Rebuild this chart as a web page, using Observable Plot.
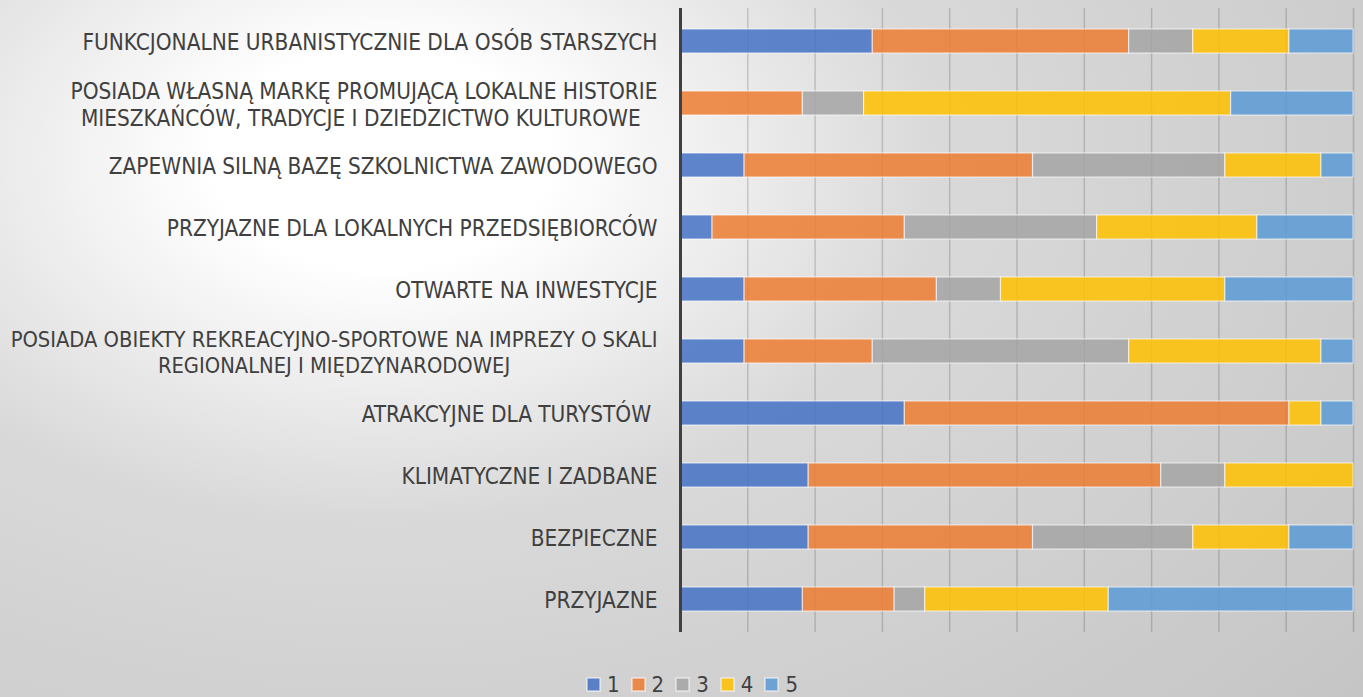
<!DOCTYPE html>
<html><head><meta charset="utf-8">
<script src="https://cdn.jsdelivr.net/npm/d3@7"></script>
<script src="https://cdn.jsdelivr.net/npm/@observablehq/plot@0.6"></script>
<style>
html,body{margin:0;padding:0;}
body{width:1363px;height:697px;overflow:hidden;position:relative;
 background: radial-gradient(ellipse 1400px 900px at 380px 160px, #ffffff 0%, #ffffff 12%, #d9d9d9 40%, #c2c2c2 100%);
 font-family: "Liberation Sans Narrow","DejaVu Sans Condensed",sans-serif;}
#chart{position:absolute;left:0;top:0;}
#chart svg{background:transparent;}
#legend{position:absolute;left:587px;top:668px;}
.lg{margin:0 !important;}
.lg-swatch{margin-right:12px !important;}
.lg-swatch > svg{margin-right:7px !important;}
.lg-swatch svg rect{fill-opacity:0.85;stroke:#fff;stroke-opacity:0.6;stroke-width:1.5px;}
</style></head><body>
<div id="chart"></div><div id="legend"></div>
<script>
const categories = [
 "FUNKCJONALNE URBANISTYCZNIE DLA OSÓB STARSZYCH",
 "POSIADA WŁASNĄ MARKĘ PROMUJĄCĄ LOKALNE HISTORIE\nMIESZKAŃCÓW, TRADYCJE I DZIEDZICTWO KULTUROWE ",
 "ZAPEWNIA SILNĄ BAZĘ SZKOLNICTWA ZAWODOWEGO",
 "PRZYJAZNE DLA LOKALNYCH PRZEDSIĘBIORCÓW",
 "OTWARTE NA INWESTYCJE",
 "POSIADA OBIEKTY REKREACYJNO-SPORTOWE NA IMPREZY O SKALI\nREGIONALNEJ I MIĘDZYNARODOWEJ",
 "ATRAKCYJNE DLA TURYSTÓW ",
 "KLIMATYCZNE I ZADBANE",
 "BEZPIECZNE",
 "PRZYJAZNE"
];
const levels = ["1","2","3","4","5"];
const score1 = [6,0,2,1,2,2,7,4,4,4];
const score2 = [8,4,9,6,6,4,12,11,7,3];
const score3 = [2,2,6,6,2,8,0,2,5,1];
const score4 = [3,12,3,5,7,6,1,4,3,6];
const score5 = [2,4,1,3,4,1,1,0,2,8];
const colors = ["#4472C4","#ED7D31","#A5A5A5","#FFC000","#5B9BD5"];

const series = [score1, score2, score3, score4, score5];
const rows = [];
categories.forEach((c, i) => {
  levels.forEach((l, j) => {
    if (series[j][i] > 0) rows.push({cat: c, level: l, value: series[j][i]});
  });
});

const fontFamily = '"Liberation Sans Narrow","DejaVu Sans Condensed",sans-serif';
const labelSize = 22.4;

const chart = Plot.plot({
  width: 1363,
  height: 660,
  marginLeft: 680,
  marginRight: 10,
  marginTop: 8,
  marginBottom: 28,
  style: {background: "transparent", fontFamily: fontFamily, overflow: "visible"},
  x: {domain: [0, 1], axis: null},
  y: {domain: categories, paddingInner: 0.607, paddingOuter: 0.3035, axis: null},
  color: {domain: levels, range: colors},
  marks: [
    Plot.gridX({ticks: 10, stroke: "#000", strokeOpacity: 0.16, strokeWidth: 1.5}),
    Plot.barX(rows, Plot.stackX({
      x: "value", y: "cat", fill: "level", offset: "normalize",
      fillOpacity: 0.85, stroke: "#ffffff", strokeOpacity: 0.6, strokeWidth: 1.2
    })),
    Plot.axisY({tickSize: 0, tickPadding: 23, fontSize: labelSize, lineHeight: 1.2, color: "#404040", label: null}),
    Plot.ruleX([0], {stroke: "#404040", strokeWidth: 3})
  ]
});
document.getElementById("chart").appendChild(chart);

// fit over-long labels into the left margin, and center the lines of multi-line labels
const maxW = 647;
chart.querySelectorAll('g[aria-label="y-axis tick label"] text').forEach(t => {
  t.style.whiteSpace = "pre";
  t.setAttributeNS("http://www.w3.org/XML/1998/namespace", "xml:space", "preserve");
  let spans = Array.from(t.querySelectorAll("tspan"));
  if (!spans.length) spans = [t];
  let ws = spans.map(s => s.getComputedTextLength());
  let W = Math.max(...ws);
  if (W > maxW) {
    t.setAttribute("font-size", labelSize * maxW / W);
    t.style.fontSize = (labelSize * maxW / W) + "px";
    ws = spans.map(s => s.getComputedTextLength());
    W = Math.max(...ws);
  }
  if (spans.length > 1 && spans[0] !== t) {
    spans.forEach((s, k) => s.setAttribute("x", -(W - ws[k]) / 2));
  }
});

const legend = Plot.legend({
  color: {domain: levels, range: colors},
  legend: "swatches",
  swatchSize: 13,
  className: "lg",
  style: {fontSize: "22px", fontFamily: fontFamily, color: "#404040"}
});
document.getElementById("legend").appendChild(legend);
</script>
</body></html>
